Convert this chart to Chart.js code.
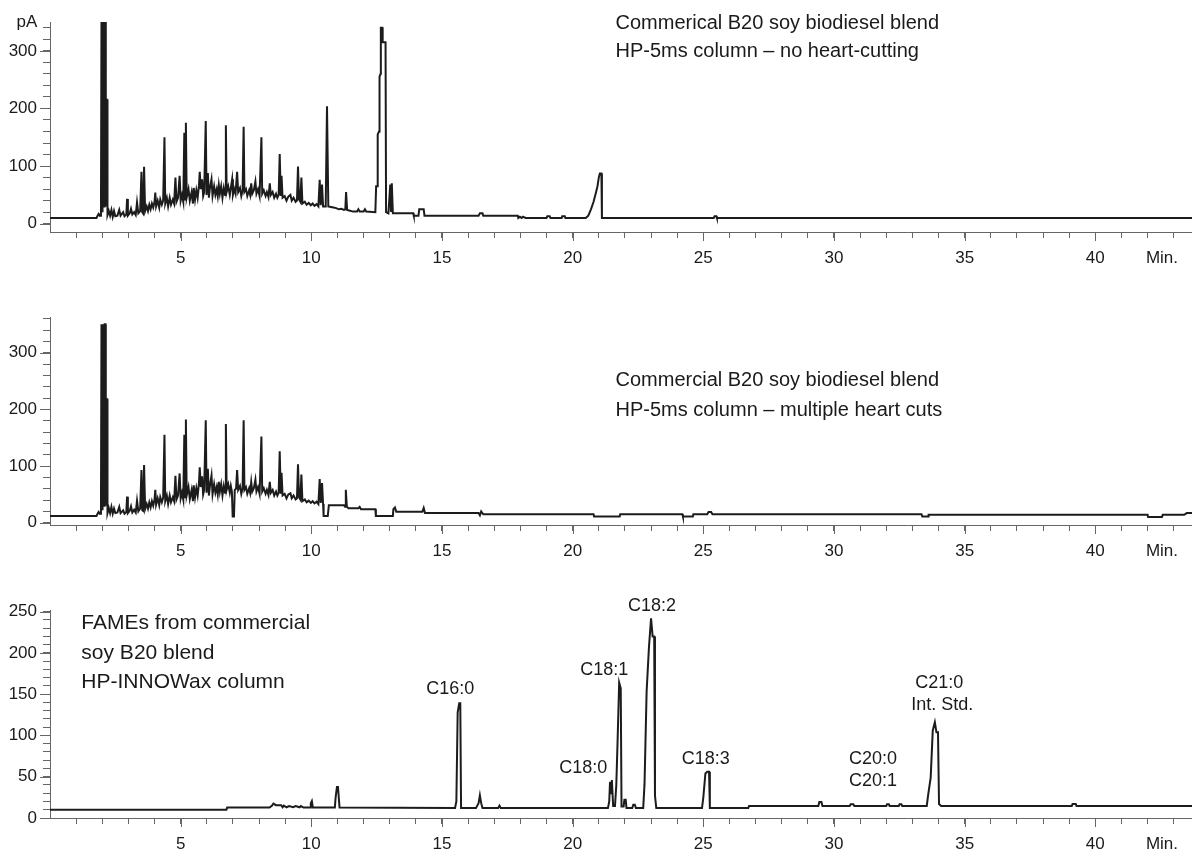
<!DOCTYPE html>
<html>
<head>
<meta charset="utf-8">
<title>B20 soy biodiesel chromatograms</title>
<script src="https://cdn.jsdelivr.net/npm/chart.js@4.4.1/dist/chart.umd.min.js"></script>
<style>
  html, body { margin: 0; padding: 0; background: #fff; overflow: hidden; }
  body { width: 1192px; height: 852px; position: relative; }
  .panel { position: absolute; left: 0; width: 1192px; }
</style>
</head>
<body>
<div class="panel" style="top:0px"><canvas id="chartNoCut" width="1192" height="272"></canvas></div>
<div class="panel" style="top:297px"><canvas id="chartHeartCut" width="1192" height="268"></canvas></div>
<div class="panel" style="top:590px"><canvas id="chartFames" width="1192" height="268"></canvas></div>
<script>
// Retention time axis (min)
const X_TICKS = [1, 2, 3, 4, 5, 6, 7, 8, 9, 10, 11, 12, 13, 14, 15, 16, 17, 18, 19, 20, 21, 22,
  23, 24, 25, 26, 27, 28, 29, 30, 31, 32, 33, 34, 35, 36, 37, 38, 39, 40, 41, 42, 43];
const Y1_TICKS = [0, 20, 40, 60, 80, 100, 120, 140, 160, 180, 200, 220, 240, 260, 280, 300, 320, 340];
const Y2_TICKS = [0, 20, 40, 60, 80, 100, 120, 140, 160, 180, 200, 220, 240, 260, 280, 300, 320, 340, 360];
const Y3_TICKS = [0, 10, 20, 30, 40, 50, 60, 70, 80, 90, 100, 110, 120, 130, 140, 150, 160, 170, 180,
  190, 200, 210, 220, 230, 240, 250];

// Trace 1: HP-5ms, no heart-cutting
const T1 = [0, 1.78, 1.82, 1.86, 1.9, 1.95, 1.97, 1.98, 1.99, 2.0, 2.01, 2.02, 2.03, 2.045, 2.05, 2.06, 2.07, 2.08,
  2.09, 2.1, 2.12, 2.13, 2.14, 2.15, 2.16, 2.17, 2.19, 2.2, 2.25, 2.3, 2.35, 2.4, 2.45, 2.5,
  2.58, 2.65, 2.7, 2.8, 2.85, 2.92, 2.95, 2.98, 3.05, 3.1, 3.15, 3.22, 3.28, 3.33, 3.38, 3.45, 3.5, 3.53, 3.56, 3.6,
  3.64, 3.7, 3.75, 3.8, 3.85, 3.9, 3.95, 4.0, 4.03, 4.06, 4.12, 4.18, 4.22, 4.28, 4.33, 4.38, 4.41, 4.47, 4.52, 4.58,
  4.63, 4.7, 4.75, 4.8, 4.84, 4.9, 4.96, 5.0, 5.05, 5.1, 5.14, 5.17, 5.2, 5.23, 5.3, 5.35, 5.42, 5.47, 5.5, 5.55,
  5.6, 5.65, 5.7, 5.73, 5.77, 5.82, 5.86, 5.9, 5.96, 5.99, 6.04, 6.08, 6.12, 6.18, 6.22, 6.28, 6.33, 6.38, 6.42, 6.46,
  6.5, 6.55, 6.6, 6.65, 6.7, 6.73, 6.76, 6.82, 6.88, 6.92, 6.97, 7.0, 7.05, 7.1, 7.16, 7.2, 7.27, 7.32, 7.37, 7.41,
  7.44, 7.5, 7.55, 7.62, 7.66, 7.7, 7.74, 7.8, 7.86, 7.9, 7.96, 8.02, 8.09, 8.12, 8.18, 8.25, 8.3, 8.36, 8.41, 8.45,
  8.52, 8.58, 8.65, 8.7, 8.75, 8.79, 8.83, 8.86, 8.9, 8.98, 9.05, 9.12, 9.2, 9.25, 9.32, 9.4, 9.45, 9.49, 9.53, 9.58,
  9.62, 9.66, 9.75, 9.82, 9.9, 9.98, 10.05, 10.12, 10.2, 10.27, 10.32, 10.36, 10.41, 10.45, 10.55, 10.6, 10.65, 10.75,
  10.85, 10.95, 11.05, 11.15, 11.25, 11.3, 11.33, 11.37, 11.45, 11.6, 11.75, 11.8, 11.85, 12.0, 12.05, 12.1, 12.45,
  12.48, 12.52, 12.54, 12.59, 12.61, 12.65, 12.66, 12.72, 12.73, 12.84, 12.86, 12.95, 13.02, 13.05, 13.08, 13.12,
  13.9, 13.92, 14.1, 14.13,
  14.3, 14.33, 16.4, 16.45, 16.55, 16.58, 17.9, 17.92, 17.98, 18.05, 18.1, 18.2, 19.0, 19.03, 19.12, 19.15, 19.58,
  19.6, 19.7, 19.72, 20.5, 20.6, 20.7, 20.8, 20.88, 20.95, 21.0, 21.04, 21.1, 21.12, 25.4, 25.43, 25.5, 25.52, 43.7];
const V1 = [10, 10, 14, 17, 14, 14, 350, 20, 350, 20, 350, 20, 350, 350, 135, 350, 30, 350,
  30, 350, 350, 215, 30, 215, 30, 215, 215, 15, 22, 14, 24, 12, 22, 13,
  14, 24, 14, 20, 13, 16, 43, 14, 18, 26, 16, 20, 15, 37, 18, 22, 90, 20, 18, 99,
  22, 30, 22, 33, 25, 35, 28, 38, 54, 30, 40, 28, 42, 33, 40, 150, 35, 45, 30, 45,
  33, 42, 35, 80, 38, 45, 83, 40, 50, 38, 158, 42, 175, 45, 60, 40, 55, 35, 62, 42,
  58, 45, 66, 90, 60, 77, 48, 55, 178, 50, 88, 45, 62, 77, 48, 65, 50, 60, 48, 67,
  52, 65, 45, 62, 50, 171, 55, 65, 50, 62, 77, 50, 60, 52, 90, 55, 62, 48, 58, 168,
  55, 60, 48, 58, 50, 70, 52, 58, 73, 52, 60, 48, 150, 52, 58, 48, 55, 46, 70, 50,
  55, 45, 52, 45, 50, 121, 48, 83, 45, 48, 40, 47, 50, 40, 45, 38, 40, 99, 42, 38,
  80, 35, 38, 33, 36, 32, 35, 31, 34, 30, 76, 32, 68, 30, 30, 204, 30, 29,
  28, 27, 25, 26, 24, 25, 55, 24, 23, 21, 21, 25, 21, 21, 25, 21, 20,
  65, 65, 155, 160, 255, 260, 340, 340, 315, 315, 20, 18, 68, 22, 70, 18,
  18, 14, 14, 25,
  25, 14, 14, 18, 18, 14, 14, 10, 12, 10, 12, 10, 10, 13, 13, 10, 10,
  13, 13, 10, 10, 14, 25, 38, 52, 65, 80, 87, 87, 10, 10, 13, 13, 10, 10];

// Trace 2: HP-5ms, multiple heart cuts
const T2 = [0, 1.78, 1.82, 1.86, 1.9, 1.95, 1.97, 1.98, 1.99, 2.0, 2.01, 2.02, 2.03, 2.045, 2.05, 2.06, 2.07, 2.08,
  2.09, 2.1, 2.12, 2.13, 2.14, 2.15, 2.16, 2.17, 2.19, 2.2, 2.25, 2.3, 2.35, 2.4, 2.45, 2.5,
  2.58, 2.65, 2.7, 2.8, 2.85, 2.92, 2.95, 2.98, 3.05, 3.1, 3.15, 3.22, 3.28, 3.33, 3.38, 3.45, 3.5, 3.53, 3.56, 3.6,
  3.64, 3.7, 3.75, 3.8, 3.85, 3.9, 3.95, 4.0, 4.03, 4.06, 4.12, 4.18, 4.22, 4.28, 4.33, 4.38, 4.41, 4.47, 4.52, 4.58,
  4.63, 4.7, 4.75, 4.8, 4.84, 4.9, 4.96, 5.0, 5.05, 5.1, 5.14, 5.17, 5.2, 5.23, 5.3, 5.35, 5.42, 5.47, 5.5, 5.55,
  5.6, 5.65, 5.7, 5.73, 5.77, 5.82, 5.86, 5.9, 5.96, 5.99, 6.04, 6.08, 6.12, 6.18, 6.22, 6.28, 6.33, 6.38, 6.42, 6.46,
  6.5, 6.55, 6.6, 6.65, 6.7, 6.73, 6.76, 6.82, 6.88, 6.92, 6.96, 6.99, 7.04, 7.07, 7.12, 7.16, 7.2, 7.27, 7.32, 7.37,
  7.41, 7.44, 7.5, 7.55, 7.62, 7.66, 7.7, 7.74, 7.8, 7.86, 7.9, 7.96, 8.02, 8.09, 8.12, 8.18, 8.25, 8.3, 8.36, 8.41,
  8.45, 8.52, 8.58, 8.65, 8.7, 8.75, 8.79, 8.83, 8.86, 8.9, 8.98, 9.05, 9.12, 9.2, 9.25, 9.32, 9.4, 9.45, 9.49, 9.53,
  9.58, 9.62, 9.66, 9.75, 9.82, 9.9, 9.98, 10.05, 10.12, 10.2, 10.27, 10.32, 10.36, 10.41, 10.45, 10.47, 10.63, 10.67,
  11.25, 11.29, 11.32, 11.36, 11.42, 11.8, 11.85, 11.9, 12.1, 12.45, 12.47, 13.12, 13.14, 13.2, 13.25, 14.2, 14.25,
  14.3, 14.35, 16.4, 16.45, 16.5, 16.58, 20.8, 20.82, 21.8, 21.82, 24.2, 24.22, 24.6, 24.62, 25.15, 25.2, 25.3, 25.35,
  33.35, 33.38, 33.6, 33.62, 42.0, 42.02, 42.55, 42.58, 43.4, 43.5, 43.7];
const V2 = [12, 12, 16, 19, 16, 16, 350, 22, 350, 22, 350, 22, 350, 350, 152, 350, 30, 350,
  30, 350, 350, 218, 30, 218, 30, 218, 218, 17, 26, 17, 28, 16, 25, 17,
  18, 28, 17, 22, 16, 19, 46, 17, 21, 29, 18, 23, 18, 39, 20, 25, 93, 22, 21, 102,
  24, 33, 25, 36, 27, 38, 30, 41, 58, 32, 43, 31, 45, 36, 44, 155, 38, 48, 33, 48,
  36, 45, 38, 83, 41, 48, 87, 43, 53, 41, 155, 45, 182, 48, 63, 42, 58, 38, 66, 45,
  61, 48, 70, 98, 63, 82, 50, 58, 181, 53, 95, 48, 65, 83, 50, 68, 53, 63, 50, 72,
  55, 68, 48, 65, 53, 174, 58, 68, 53, 65, 55, 11, 11, 58, 60, 93, 58, 65, 51, 61,
  181, 58, 63, 51, 61, 53, 72, 55, 61, 76, 55, 63, 51, 152, 55, 61, 51, 58, 49, 72,
  53, 58, 48, 55, 48, 53, 126, 51, 88, 48, 51, 43, 50, 52, 43, 48, 41, 43, 103, 45,
  41, 85, 38, 41, 36, 39, 35, 38, 34, 37, 33, 77, 35, 70, 33, 12, 12, 31,
  31, 28, 58, 28, 25.5, 25.5, 28, 24, 24, 24, 12, 12, 24, 27, 19.5, 19.5, 19.5,
  26, 17, 17, 13, 20, 15, 15, 11, 11, 15, 15, 11, 11, 15, 15, 19, 19, 15,
  15, 11, 11, 14, 14, 10, 10, 14, 14, 17, 17];

// Trace 3: HP-INNOWax, FAMEs
const T3 = [0, 6.75, 6.78, 8.4, 8.5, 8.55, 8.65, 8.85, 8.9, 8.95, 9.05, 9.15, 9.3, 9.4, 9.55, 9.6, 9.7, 9.95, 9.98, 10.02,
  10.06, 10.9, 10.93, 10.98, 11.02, 11.05, 11.08, 15.5, 15.55, 15.6, 15.66, 15.7, 15.73, 16.3, 16.4, 16.45, 16.5,
  16.55, 17.15, 17.2, 17.25, 21.35, 21.4, 21.43, 21.47, 21.5, 21.55, 21.62, 21.67, 21.72, 21.78, 21.84, 21.87, 21.95,
  21.98, 22.03, 22.06, 22.28, 22.32, 22.38, 22.42, 22.7, 22.75, 22.83, 22.92, 23.0, 23.06, 23.12, 23.15, 23.2, 24.95,
  25.0, 25.08, 25.15, 25.22, 25.25, 26.72, 26.75, 29.4, 29.44, 29.52, 29.56, 30.6, 30.64, 30.74, 30.78, 32.0, 32.03,
  32.1, 32.13, 32.48, 32.51, 32.58, 32.61, 33.55, 33.6, 33.7, 33.78, 33.86, 33.92, 33.98, 34.02, 34.1, 39.1, 39.13,
  39.25, 39.28, 43.7];
const V3 = [10, 10, 12.6, 12.6, 15, 17.5, 15.5, 15.5, 13, 15, 13, 14.5, 13, 14.5, 13, 14.5, 12.6, 12.6, 18, 20.6,
  12.6, 12.6, 25, 37.6, 37.6, 25, 12.6, 12.1, 20, 128, 139, 139, 12, 12, 18, 27.5, 18,
  12, 12, 15, 12, 12, 20, 44, 30, 46, 14.4, 14.4, 40, 94, 164, 157, 14, 14,
  22, 22, 12, 12, 16, 16, 12, 12, 41, 153, 207, 242, 220, 220, 27, 12, 12,
  25, 54, 56, 56, 12, 12, 14.6, 14.6, 19.5, 19.5, 14.6, 14.6, 16.7, 16.7, 14.6, 14.6, 16.7,
  16.7, 14.6, 14.6, 16.7, 16.7, 14.6, 14.6, 27, 49, 106, 116, 104, 104, 17, 14.6, 14.6, 17,
  17, 14.6, 14.6];

// Text placed in data units (min, pA)
const NOTES_1 = [
  { x: 21.64, y: 348, text: "Commerical B20 soy biodiesel blend" },
  { x: 21.64, y: 298, text: "HP-5ms column \u2013 no heart-cutting" },
];
const NOTES_2 = [
  { x: 21.64, y: 251, text: "Commercial B20 soy biodiesel blend" },
  { x: 21.64, y: 198, text: "HP-5ms column \u2013 multiple heart cuts" },
];
const NOTES_3 = [
  { x: 1.2, y: 236, text: "FAMEs from commercial", size: 21 },
  { x: 1.2, y: 200, text: "soy B20 blend", size: 21 },
  { x: 1.2, y: 165, text: "HP-INNOWax column", size: 21 },
  { x: 15.32, y: 156, text: "C16:0", size: 18, align: "center" },
  { x: 20.41, y: 60, text: "C18:0", size: 18, align: "center" },
  { x: 21.21, y: 179, text: "C18:1", size: 18, align: "center" },
  { x: 23.04, y: 257, text: "C18:2", size: 18, align: "center" },
  { x: 25.09, y: 72, text: "C18:3", size: 18, align: "center" },
  { x: 31.49, y: 71, text: "C20:0", size: 18, align: "center" },
  { x: 31.49, y: 45, text: "C20:1", size: 18, align: "center" },
  { x: 34.03, y: 164, text: "C21:0", size: 18, align: "center" },
  { x: 34.14, y: 137, text: "Int. Std.", size: 18, align: "center" },
];

const FONT = '"Liberation Sans", Arial, sans-serif';
const AXIS_COLOR = "#666";
const TEXT_COLOR = "#1a1a1a";
const TRACE_COLOR = "#1c1c1c";

Chart.defaults.font.family = FONT;
Chart.defaults.font.size = 17;
Chart.defaults.color = TEXT_COLOR;

// longer marks on labelled ticks, "Min." label and text notes
const extrasPlugin = {
  id: "extras",
  afterDraw(chart, args, opts) {
    const { ctx, chartArea } = chart;
    const xs = chart.scales.x;
    const ys = chart.scales.y;
    ctx.save();
    ctx.strokeStyle = AXIS_COLOR;
    ctx.lineWidth = 1;
    xs.ticks.forEach((t) => {
      if (t.value % 5 !== 0) return;
      const px = Math.round(xs.getPixelForValue(t.value)) + 0.5;
      ctx.beginPath();
      ctx.moveTo(px, chartArea.bottom);
      ctx.lineTo(px, chartArea.bottom + 9);
      ctx.stroke();
    });
    ys.ticks.forEach((t) => {
      if (t.value % opts.yMajor !== 0) return;
      const py = Math.round(ys.getPixelForValue(t.value)) + 0.5;
      ctx.beginPath();
      ctx.moveTo(chartArea.left - 10, py);
      ctx.lineTo(chartArea.left, py);
      ctx.stroke();
    });

    ctx.fillStyle = TEXT_COLOR;
    ctx.textBaseline = "middle";
    ctx.font = "17px " + FONT;
    ctx.textAlign = "center";
    ctx.fillText("Min.", xs.getPixelForValue(42.55), chartArea.bottom + 26);
    if (opts.unit) {
      ctx.fillText(opts.unit, chartArea.left - 23, chartArea.top);
    }
    (opts.notes || []).forEach((n) => {
      ctx.font = (n.size || 20) + "px " + FONT;
      ctx.textAlign = n.align || "left";
      ctx.fillText(n.text, xs.getPixelForValue(n.x), ys.getPixelForValue(n.y));
    });
    ctx.restore();
  },
};

function traceConfig(times, values, yTicks, yMin, yMax, yMajor, padTop, notes, unit) {
  return {
    type: "line",
    data: {
      datasets: [{
        data: times.map((t, i) => ({ x: t, y: values[i] })),
        borderColor: TRACE_COLOR,
        borderWidth: 2,
        pointRadius: 0,
        tension: 0,
        fill: false,
      }],
    },
    options: {
      responsive: false,
      animation: false,
      events: [],
      layout: { padding: { top: padTop, left: 0, right: 0, bottom: 0 } },
      plugins: {
        legend: { display: false },
        tooltip: { enabled: false },
        extras: { notes, unit, yMajor },
      },
      scales: {
        x: {
          type: "linear",
          min: 0,
          max: 43.7,
          afterBuildTicks: (s) => { s.ticks = X_TICKS.map((v) => ({ value: v })); },
          afterFit: (s) => { s.height = 40; },
          ticks: {
            autoSkip: false,
            maxRotation: 0,
            padding: 10,
            callback: (v) => (v % 5 === 0 ? String(v) : ""),
          },
          grid: { drawOnChartArea: false, tickLength: 6, tickColor: AXIS_COLOR },
          border: { color: AXIS_COLOR, width: 1 },
        },
        y: {
          type: "linear",
          min: yMin,
          max: yMax,
          afterBuildTicks: (s) => { s.ticks = yTicks.map((v) => ({ value: v })); },
          afterFit: (s) => { s.width = 50; },
          ticks: {
            autoSkip: false,
            padding: 6,
            callback: (v) => (v % yMajor === 0 ? String(v) : ""),
          },
          grid: { drawOnChartArea: false, tickLength: 7, tickColor: AXIS_COLOR },
          border: { color: AXIS_COLOR, width: 1 },
        },
      },
    },
    plugins: [extrasPlugin],
  };
}

new Chart(document.getElementById("chartNoCut"),
  traceConfig(T1, V1, Y1_TICKS, -14.4, 350, 100, 22, NOTES_1, "pA"));
new Chart(document.getElementById("chartHeartCut"),
  traceConfig(T2, V2, Y2_TICKS, -4, 363, 100, 20, NOTES_2, null));
new Chart(document.getElementById("chartFames"),
  traceConfig(T3, V3, Y3_TICKS, 0, 252, 50, 20, NOTES_3, null));
</script>
</body>
</html>
